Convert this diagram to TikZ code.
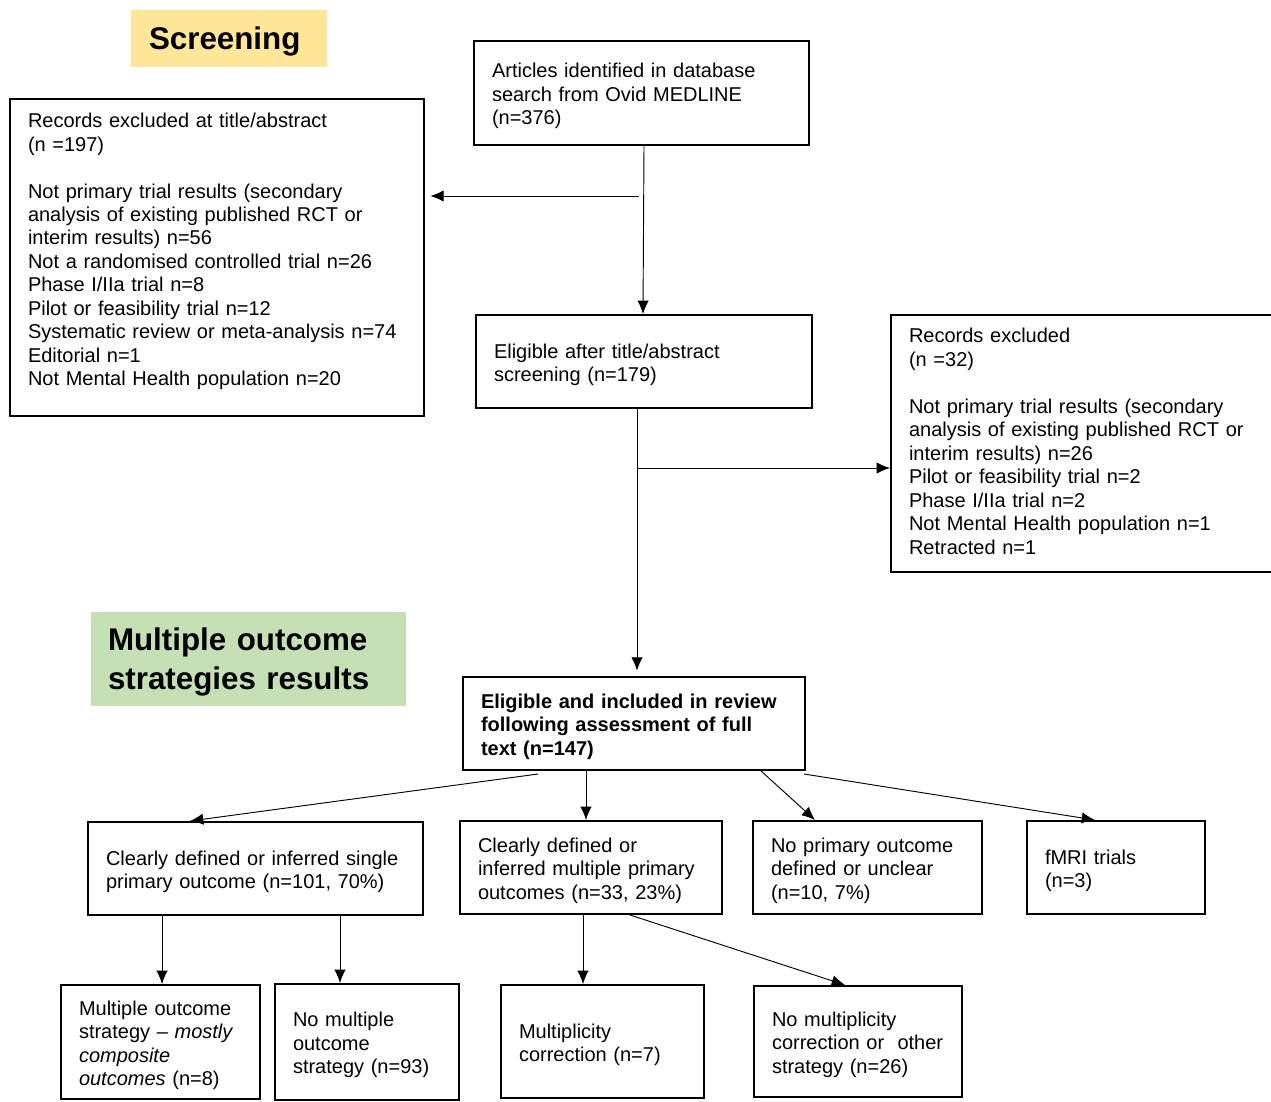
\documentclass[tikz,border=0pt]{standalone}
\usepackage{fontspec}
\setmainfont{Liberation Sans}
\usetikzlibrary{arrows.meta,calc}
\definecolor{screenyellow}{HTML}{FFE699}
\definecolor{resultgreen}{HTML}{C5E0B4}
\tikzset{
    lift/.style={execute at begin node={\rule{0pt}{#1}}},
    sink/.style={execute at end node={\rule[-#1]{0pt}{#1}}},
    box/.style={draw, line width=1.5pt, align=left, inner xsep=13.5pt, inner ysep=0pt,
        font=\fontsize{15}{17.6}\selectfont, lift=15.5pt},
    heading/.style={inner xsep=13.5pt, inner ysep=0pt, align=left, lift=21.6pt,
        font=\bfseries\fontsize{23.5}{29}\selectfont},
    arr/.style={line width=.7pt, -{Latex[length=10pt,width=8.5pt]}},
}
\begin{document}
\begin{tikzpicture}[x=.75pt,y=-.75pt]
    \useasboundingbox (0,0) rectangle (1271,1101);
    % headings
    \node[heading, fill=screenyellow, text width=120pt, minimum height=42.75pt] (screen) at (229,38.5) {Screening};
    \node[heading, fill=resultgreen, minimum height=70.5pt, inner xsep=12.75pt, text width=210.75pt] (results) at (248.5,659) {Multiple outcome\\strategies results};

    % screening stage
    \node[box, text width=224.25pt, minimum height=78pt] (articles) at (641.5,93)
        {Articles identified in database\\search from Ovid MEDLINE\\(n=376)};
    \node[box, text width=283.5pt, minimum height=237.75pt, sink=16.7pt] (recl) at (217,257.5)
        {Records excluded at title/abstract\\(n =197)\\[17.6pt]
         Not primary trial results (secondary\\analysis of existing published RCT or\\interim results) n=56\\
         Not a randomised controlled trial n=26\\Phase I/IIa trial n=8\\Pilot or feasibility trial n=12\\
         Systematic review or meta-analysis n=74\\Editorial n=1\\Not Mental Health population n=20};
    \node[box, text width=261.75pt, minimum height=192.75pt, lift=0pt, sink=8pt] (recr) at (1083.5,443.5)
        {Records excluded\\(n =32)\\[17.6pt]
         Not primary trial results (secondary\\analysis of existing published RCT or\\interim results) n=26\\
         Pilot or feasibility trial n=2\\Phase I/IIa trial n=2\\Not Mental Health population n=1\\Retracted n=1};
    \node[box, text width=225pt, minimum height=69.75pt] (elig) at (644,361.5)
        {Eligible after title/abstract\\screening (n=179)};
    \node[box, text width=229.5pt, minimum height=69.75pt, font=\bfseries\fontsize{15}{17.6}\selectfont] (incl) at (634,723.5)
        {Eligible and included in review\\following assessment of full\\text (n=147)};

    % outcome strategies
    \node[box, text width=224.25pt, minimum height=69.75pt] (single) at (255.5,868.5)
        {Clearly defined or inferred single\\primary outcome (n=101, 70\%)};
    \node[box, text width=169.5pt, minimum height=69.75pt] (multi) at (591,867.5)
        {Clearly defined or\\inferred multiple primary\\outcomes (n=33, 23\%)};
    \node[box, text width=144.75pt, minimum height=69.75pt] (noprim) at (867.5,867.5)
        {No primary outcome\\defined or unclear\\(n=10, 7\%)};
    \node[box, text width=106.5pt, minimum height=69.75pt] (fmri) at (1116,867.5)
        {fMRI trials\\(n=3)};
    \node[box, text width=122.25pt, minimum height=85.5pt] (mos) at (160.5,1042)
        {Multiple outcome\\strategy -- \textit{mostly}\\\textit{composite}\\\textit{outcomes} (n=8)};
    \node[box, text width=111pt, minimum height=87pt] (nomult) at (367,1042)
        {No multiple\\outcome\\strategy (n=93)};
    \node[box, text width=125.25pt, minimum height=84.75pt] (mcorr) at (602.5,1041.5)
        {Multiplicity\\correction (n=7)};
    \node[box, text width=129pt, minimum height=83.25pt] (nomc) at (858,1041.5)
        {No multiplicity\\correction or\ \ other\\strategy (n=26)};

    % connectors
    \draw[arr] ($(articles.south)+(2.5,0)$) -- ($(elig.north)+(-1,0)$);
    \coordinate (split1) at (639,196);
    \draw[arr, shorten >=4pt] (split1) -- (recl.east |- split1);
    \draw[arr, shorten >=4pt] ($(elig.south)+(-7,0)$) -- ($(incl.north)+(3,0)$);
    \coordinate (split2) at (637,468);
    \draw[arr] (split2) -- (recr.west |- split2);

    \draw[arr] ($(incl.south)+(-96,3)$) -- ($(single.north)+(-65.5,0)$);
    \draw[arr] ($(incl.south)+(-48,0)$) -- ($(multi.north)+(-5,0)$);
    \draw[arr] ($(incl.south)+(126,-1)$) -- ($(noprim.north)+(-52.5,0)$);
    \draw[arr] ($(incl.south east)+(-2,3)$) -- ($(fmri.north)+(-21,0)$);

    \draw[arr] ($(single.south)+(-93.5,0)$) -- ($(mos.north)+(1.5,0)$);
    \draw[arr] ($(single.south)+(84.5,0)$) -- ($(nomult.north)+(-27,0)$);
    \draw[arr] ($(multi.south)+(-8,0)$) -- ($(mcorr.north)+(-19.5,0)$);
    \draw[arr] ($(multi.south)+(39,0)$) -- ($(nomc.north)+(-13,0)$);
\end{tikzpicture}
\end{document}
